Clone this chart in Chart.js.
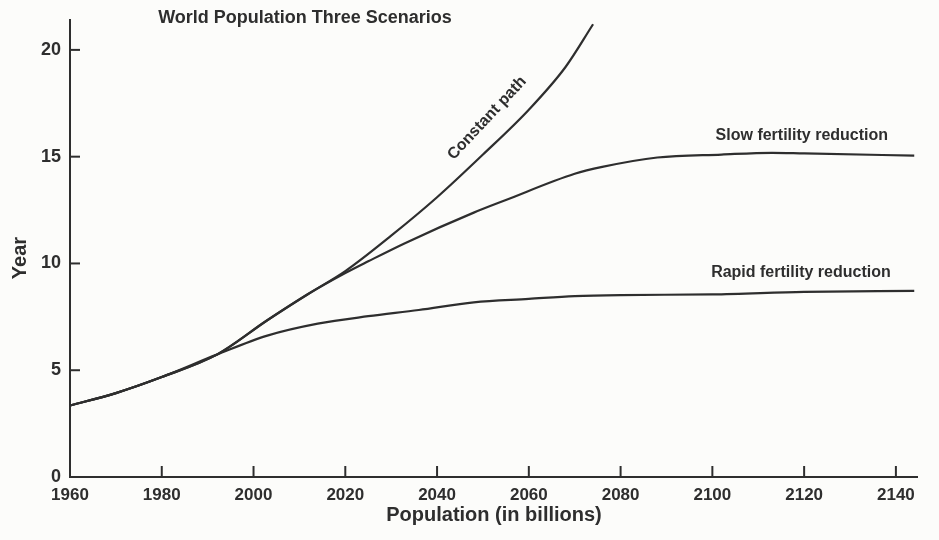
<!DOCTYPE html>
<html><head><meta charset="utf-8">
<script src="https://cdn.jsdelivr.net/npm/chart.js@4/dist/chart.umd.min.js"></script>
<style>html,body{margin:0;padding:0;background:#fcfcfa;}#wrap{width:939px;height:540px;}</style>
</head><body><div id="wrap"><canvas id="c" width="939" height="540"></canvas></div>
<script>
const chartTitle = 'World Population Three Scenarios';
const xAxisTitle = 'Population (in billions)';
const yAxisTitle = 'Year';
const xTickValues = [1960,1980,2000,2020,2040,2060,2080,2100,2120,2140];
const yTickValues = [0,5,10,15,20];

const constantYears  = [1960,1970,1980,1992,2003,2012,2020,2030,2040,2050,2060,2068,2074];
const constantValues = [3.35,3.93,4.68,5.73,7.34,8.58,9.64,11.3,13.1,15.1,17.2,19.2,21.2];

const slowYears  = [1960,1970,1980,1992,2003,2012,2020,2025,2033,2048,2055,2070,2076,2088,2102,2113,2120,2144];
const slowValues = [3.35,3.93,4.68,5.73,7.34,8.58,9.55,10.1,10.95,12.38,12.97,14.2,14.52,14.96,15.1,15.18,15.15,15.05];

const rapidYears  = [1960,1970,1980,1992,2003,2014,2025,2036,2048,2060,2070,2080,2100,2120,2144];
const rapidValues = [3.35,3.93,4.68,5.73,6.62,7.18,7.53,7.82,8.18,8.34,8.47,8.52,8.55,8.67,8.72];

const seriesLabels = ['Constant path','Slow fertility reduction','Rapid fertility reduction'];

const INK = '#2e2e2e';
const FONT = '"Liberation Sans", Arial, Helvetica, sans-serif';

function pts(xs, ys){ return xs.map((x,i)=>({x:x, y:ys[i]})); }
function ds(label, xs, ys){
  return {label:label, data:pts(xs,ys), borderColor:INK, borderWidth:2.2, pointRadius:0,
          fill:false, cubicInterpolationMode:'monotone'};
}

const decor = {
  id:'decor',
  afterDraw(chart){
    const ctx = chart.ctx, xs = chart.scales.x, ys = chart.scales.y;
    ctx.save();
    ctx.strokeStyle = INK; ctx.lineWidth = 2;
    xTickValues.forEach(v=>{
      if (v === xs.min) return;
      const px = xs.getPixelForValue(v);
      ctx.beginPath(); ctx.moveTo(px, ys.bottom); ctx.lineTo(px, ys.bottom-11); ctx.stroke();
    });
    yTickValues.forEach(v=>{
      if (v === ys.min) return;
      const py = ys.getPixelForValue(v);
      ctx.beginPath(); ctx.moveTo(xs.left, py); ctx.lineTo(xs.left+10, py); ctx.stroke();
    });
    ctx.fillStyle = INK;
    ctx.textAlign = 'center'; ctx.textBaseline = 'middle';
    ctx.font = 'bold 18px ' + FONT;
    ctx.fillText(chartTitle, 305, 18);
    ctx.font = 'bold 20px ' + FONT;
    ctx.fillText(xAxisTitle, 494, 515);
    ctx.save(); ctx.translate(20, 258); ctx.rotate(-Math.PI/2);
    ctx.font = 'bold 20px ' + FONT;
    ctx.fillText(yAxisTitle, 0, 0); ctx.restore();
    ctx.font = 'bold 16px ' + FONT;
    ctx.save();
    ctx.translate(xs.getPixelForValue(2050.9), ys.getPixelForValue(16.8));
    ctx.rotate(-47*Math.PI/180);
    ctx.fillText(seriesLabels[0], 0, 0);
    ctx.restore();
    ctx.fillText(seriesLabels[1], xs.getPixelForValue(2119.5), ys.getPixelForValue(15.97));
    ctx.fillText(seriesLabels[2], xs.getPixelForValue(2119.3), ys.getPixelForValue(9.55));
    ctx.restore();
  }
};

new Chart(document.getElementById('c'), {
  type:'line',
  data:{datasets:[
    ds(seriesLabels[0], constantYears, constantValues),
    ds(seriesLabels[1], slowYears, slowValues),
    ds(seriesLabels[2], rapidYears, rapidValues)
  ]},
  options:{
    responsive:false, animation:false,
    layout:{padding:{top:20, right:22, left:0, bottom:0}},
    plugins:{legend:{display:false}, title:{display:false}, tooltip:{enabled:false}},
    scales:{
      x:{type:'linear', min:1960, max:2144.6,
         afterBuildTicks:s=>{ s.ticks = xTickValues.map(v=>({value:v})); },
         afterFit:s=>{ s.height = 63; },
         grid:{display:false, drawTicks:false},
         border:{display:true, color:INK, width:2},
         ticks:{color:INK, padding:8, maxRotation:0, autoSkip:false,
                font:{family:FONT, size:17, weight:'bold'}, callback:v=>String(v)}},
      y:{type:'linear', min:0, max:21.4,
         afterBuildTicks:s=>{ s.ticks = yTickValues.map(v=>({value:v})); },
         afterFit:s=>{ s.width = 70; },
         grid:{display:false, drawTicks:false},
         border:{display:true, color:INK, width:2},
         ticks:{color:INK, padding:9, font:{family:FONT, size:18, weight:'bold'}, callback:v=>String(v)}}
    }
  },
  plugins:[decor]
});
</script>
</body></html>
